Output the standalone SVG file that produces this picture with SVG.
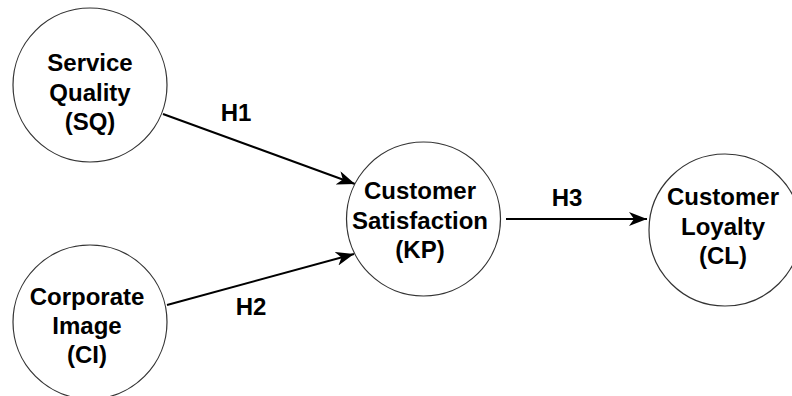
<svg xmlns="http://www.w3.org/2000/svg" width="792" height="396" viewBox="0 0 792 396">
  <style>
    .node circle { fill: #ffffff; stroke: #333333; stroke-width: 1.2; }
    .node text, .label { font-family: "Liberation Sans", Arial, sans-serif; font-weight: bold; font-size: 24px; fill: #000000; text-anchor: middle; }
    .edge { stroke: #000000; stroke-width: 2; fill: none; marker-end: url(#arrow); }
  </style>
  <defs>
    <marker id="arrow" markerUnits="userSpaceOnUse" markerWidth="20" markerHeight="14" viewBox="0 0 20 14" refX="18" refY="7" orient="auto">
      <path d="M0,0 L18,7 L0,14 L5,7 Z" fill="#000000"/>
    </marker>
  </defs>
  <rect width="792" height="396" fill="#ffffff"/>
  <g id="connectors">
    <line class="edge" x1="163" y1="114" x2="355" y2="184"/>
    <line class="edge" x1="167" y1="305" x2="354" y2="254"/>
    <line class="edge" x1="506" y1="219" x2="647" y2="219"/>
    <text class="label" x="236" y="121">H1</text>
    <text class="label" x="251" y="315">H2</text>
    <text class="label" x="567" y="206">H3</text>
  </g>
  <g id="node-sq" class="node">
    <circle cx="90" cy="85" r="77"/>
    <text x="90" y="71">Service</text>
    <text x="90" y="100.5">Quality</text>
    <text x="90" y="130">(SQ)</text>
  </g>
  <g id="node-ci" class="node">
    <circle cx="90" cy="322" r="77"/>
    <text x="87" y="305">Corporate</text>
    <text x="87" y="334">Image</text>
    <text x="87" y="363">(CI)</text>
  </g>
  <g id="node-kp" class="node">
    <circle cx="423.5" cy="219" r="77"/>
    <text x="420" y="199">Customer</text>
    <text x="420" y="229">Satisfaction</text>
    <text x="420" y="258">(KP)</text>
  </g>
  <g id="node-cl" class="node">
    <circle cx="725" cy="230" r="76"/>
    <text x="723" y="205">Customer</text>
    <text x="723" y="235">Loyalty</text>
    <text x="723" y="264">(CL)</text>
  </g>
</svg>
